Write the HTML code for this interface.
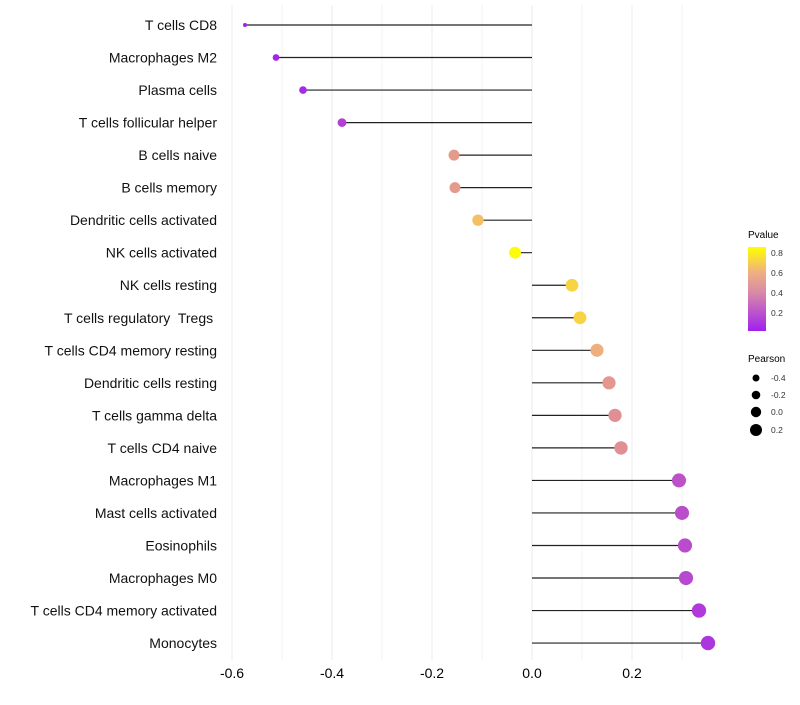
<!DOCTYPE html>
<html><head><meta charset="utf-8"><style>
body{margin:0;background:#fff;font-family:"Liberation Sans",sans-serif}
text{white-space:pre}
</style></head><body>
<svg id="chart" width="800" height="700" xmlns="http://www.w3.org/2000/svg">
<defs><linearGradient id="pg" x1="0" y1="1" x2="0" y2="0">
<stop offset="0" stop-color="#a020f0"/><stop offset="0.45" stop-color="#d888a8"/><stop offset="0.7" stop-color="#f0b080"/><stop offset="1" stop-color="#ffff00"/></linearGradient></defs>
<g id="grid"></g><g id="marks"></g><g id="labels"></g><g id="xaxis"></g>
<g>
<text x="748" y="238" font-size="10">Pvalue</text>
<rect x="748" y="247" width="18" height="84" fill="url(#pg)"/>
<g font-size="8.5" fill="#333"><text x="771" y="256">0.8</text><text x="771" y="276">0.6</text><text x="771" y="296">0.4</text><text x="771" y="316">0.2</text></g>
</g>
<g>
<text x="748" y="362" font-size="10">Pearson</text>
<circle cx="756" cy="378" r="3.5"/><circle cx="756" cy="395" r="4.3"/><circle cx="756" cy="412" r="5.2"/><circle cx="756" cy="430" r="6"/>
<g font-size="8.5" fill="#333"><text x="771" y="381">-0.4</text><text x="771" y="398">-0.2</text><text x="771" y="415">0.0</text><text x="771" y="433">0.2</text></g>
</g>
</svg>
<script>
const categories=["T cells CD8","Macrophages M2","Plasma cells","T cells follicular helper","B cells naive","B cells memory","Dendritic cells activated","NK cells activated","NK cells resting","T cells regulatory  Tregs ","T cells CD4 memory resting","Dendritic cells resting","T cells gamma delta","T cells CD4 naive","Macrophages M1","Mast cells activated","Eosinophils","Macrophages M0","T cells CD4 memory activated","Monocytes"];
const pearson=[-0.574,-0.512,-0.458,-0.38,-0.156,-0.154,-0.108,-0.034,0.08,0.096,0.13,0.154,0.166,0.178,0.294,0.3,0.306,0.308,0.334,0.352];
const pvalues=[0.01,0.02,0.04,0.12,0.48,0.48,0.65,0.86,0.72,0.72,0.58,0.46,0.42,0.42,0.18,0.17,0.16,0.15,0.1,0.08];
const xTicks=[-0.6,-0.4,-0.2,0.0,0.2];
const xMinor=[-0.5,-0.3,-0.1,0.1,0.3];
const NS="http://www.w3.org/2000/svg";
const X=v=>532+v*500, Y=i=>25+i*32.53;
function mk(t,a,p){const e=document.createElementNS(NS,t);for(const k in a)e.setAttribute(k,a[k]);document.getElementById(p).appendChild(e);return e;}
const stops=[[0,[160,32,240]],[0.4,[222,140,150]],[0.6,[240,178,122]],[0.87,[255,255,0]]];
function col(p){for(let i=1;i<stops.length;i++){if(p<=stops[i][0]||i==stops.length-1){const a=stops[i-1],b=stops[i];let t=Math.max(0,Math.min(1,(p-a[0])/(b[0]-a[0])));return `rgb(${a[1].map((c,j)=>Math.round(c+(b[1][j]-c)*t)).join(',')})`;}}}
xMinor.forEach(v=>{const l=mk('line',{x1:X(v),x2:X(v),y1:5,y2:660,stroke:'#f3f3f3'},'grid');});
xTicks.forEach(v=>{const l=mk('line',{x1:X(v),x2:X(v),y1:5,y2:660,stroke:'#ebebeb'},'grid');
const t=mk('text',{x:X(v),y:678,'font-size':14,'text-anchor':'middle',fill:'#000'},'xaxis');t.textContent=v.toFixed(1);});
categories.forEach((c,i)=>{const y=Y(i),v=pearson[i];
const l=mk('line',{x1:X(0),x2:X(v),y1:y,y2:y,stroke:'#222','stroke-width':1.2},'marks');
const d=mk('circle',{cx:X(v),cy:y,r:2+Math.sqrt(Math.max(0,v+0.574))*5.4,fill:col(pvalues[i])},'marks');
const t=mk('text',{x:217,y:y+5,'font-size':14,'text-anchor':'end',fill:'#111'},'labels');t.textContent=c;});
</script>
</body></html>
